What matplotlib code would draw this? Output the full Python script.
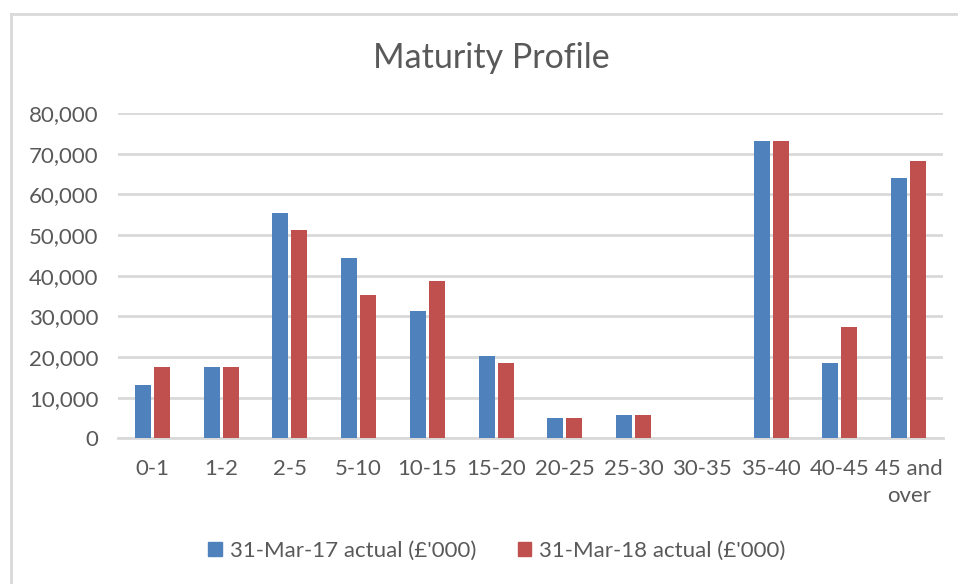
import numpy as np
import matplotlib.pyplot as plt
from matplotlib.lines import Line2D
from matplotlib.patches import Patch

categories = ['0-1', '1-2', '2-5', '5-10', '10-15', '15-20', '20-25',
              '25-30', '30-35', '35-40', '40-45', '45 and\nover']
mar17 = [13100, 17600, 55400, 44300, 31400, 20300, 4900, 5800, 0, 73000, 18500, 63900]
mar18 = [17600, 17600, 51300, 35200, 38600, 18500, 4900, 5800, 0, 73000, 27300, 68100]
labels = ["31-Mar-17 actual (£'000)", "31-Mar-18 actual (£'000)"]
yticks = [0, 10000, 20000, 30000, 40000, 50000, 60000, 70000, 80000]

blue = '#4f81bd'
red = '#c0504d'
grey = '#595959'
grid = '#d9d9d9'

plt.rcParams['font.family'] = ['Lato', 'DejaVu Sans']

fig = plt.figure(figsize=(9.58, 5.84), dpi=100)
ax = fig.add_axes([118/958, (584-438.3)/584, (943-118)/958, (438.3-113)/584])

x = np.arange(len(categories))
w = 0.235
off = 0.138
ax.bar(x - off, mar17, w, color=blue, zorder=3)
ax.bar(x + off, mar18, w, color=red, zorder=3)

ax.set_xlim(-0.5, len(categories) - 0.5)
ax.set_ylim(0, 80000)
ax.set_yticks(yticks)
ax.set_yticklabels([f'{v:,}' for v in yticks])
ax.set_xticks(x)
ax.set_xticklabels(categories, linespacing=1.4, va='top')
ax.tick_params(axis='both', length=0, colors=grey, labelsize=16)
ax.tick_params(axis='x', pad=15)
ax.tick_params(axis='y', pad=14)
ax.yaxis.grid(True, color=grid, linewidth=2, zorder=0)
for s in ['top', 'right', 'left']:
    ax.spines[s].set_visible(False)
ax.spines['bottom'].set_color(grid)
ax.spines['bottom'].set_linewidth(2)

fig.text(491/958, 1 - 58/584, 'Maturity Profile', ha='center', va='center',
         fontsize=24.5, color=grey)

# chart border (top and left edge visible in reference)
fig.add_artist(Line2D([11/958, 11/958], [0, 1 - 14/584], color=grid, linewidth=2,
                      transform=fig.transFigure))
fig.add_artist(Line2D([11/958, 1], [1 - 14/584, 1 - 14/584], color=grid, linewidth=2,
                      transform=fig.transFigure))

handles = [Patch(color=blue), Patch(color=red)]
fig.legend(handles, labels, loc='center', bbox_to_anchor=(497/958, 1 - 551/584),
           ncol=2, frameon=False, fontsize=16, labelcolor=grey,
           handlelength=0.6, handleheight=0.6, handletextpad=0.35, columnspacing=1.9)

fig.savefig('out.png', dpi=100, facecolor='white')
